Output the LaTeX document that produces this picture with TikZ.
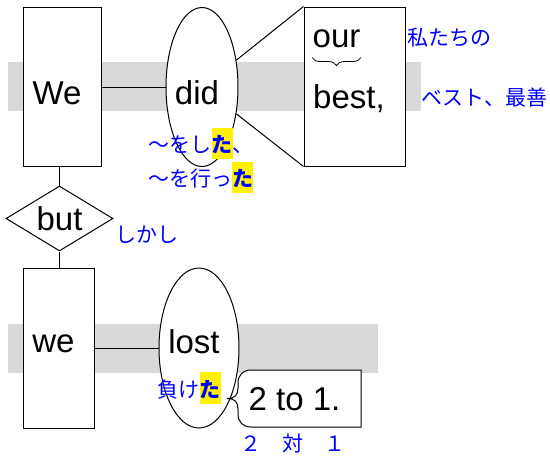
\documentclass[tikz,border=0pt]{standalone}
\usepackage{fontspec}
\setmainfont{Liberation Sans}
\newfontfamily\jp{Noto Sans CJK JP}
\usetikzlibrary{positioning,shapes.geometric,decorations.pathreplacing,calc}
\newcommand{\hlta}{{\setlength{\fboxsep}{0pt}\colorbox{yellow}{\rule[-0.32em]{0pt}{1.5em}\textbf{た}}}}
\newcommand{\nudge}[1]{\hspace*{-10pt}#1}

\begin{document}
\begin{tikzpicture}[x=1pt,y=-1pt,line width=1pt,
  word/.style={font=\fontsize{33}{36}\selectfont,inner sep=0pt},
  wbox/.style={draw,fill=white,rectangle,minimum height=159pt,inner sep=0pt},
  wovl/.style={draw,fill=white,ellipse,inner sep=0pt},
  gloss/.style={font=\jp\fontsize{21}{25}\selectfont,text=blue,inner sep=0pt},
  band/.style={fill=black!15}]
    \useasboundingbox (0,0) rectangle (550,459);
    \fill[band] (8,62) rectangle (421,111);
    \fill[band] (8,324) rectangle (378,373);

    \node[wbox,word,minimum width=78pt,text height=35.6pt,text depth=0pt] (We) at (62,87) {\nudge{We}};
    \node[wovl,word,minimum width=72pt,minimum height=159pt,text height=35.6pt,text depth=0pt] (did) at (202,87) {\nudge{did}};
    \node[wbox,minimum width=101pt] (bestbox) at (354.5,86.5) {};
    \node[word] (our) at (336.5,39) {our};
    \node[word] (best) at (349,98.5) {best,};
    \draw[line width=0.8pt,decorate,decoration={brace,mirror,amplitude=8pt}] ([yshift=-9pt]our.south west) -- ([yshift=-9pt]our.south east);

    \draw (We.east) -- (did.west);
    \draw (did.38) -- (bestbox.north west);
    \draw (did.-38) -- (bestbox.south west);

    \node[draw,fill=white,diamond,word,aspect=1.65,minimum width=107pt,minimum height=65pt] (but) at (59.5,218.5) {but};
    \node[wbox,word,minimum width=71pt,minimum height=160pt,text depth=8pt] (we) at (58.5,348) {\nudge{we}};
    \node[wovl,word,minimum width=80pt,minimum height=160pt,text depth=13pt] (lost) at (199,348) {\nudge{lost}};
    \draw (but.north) -- (but.north |- We.south);
    \draw (but.south) -- (but.south |- we.north);
    \draw (we.east |- lost.west) -- (lost.west);

    \draw[fill=white] (361,370) -- (251,370) .. controls (243,370) and (238,375) .. (238,383)
      -- (238,388) .. controls (238,395) and (235,398.5) .. (227,398.5)
      .. controls (235,398.5) and (238,402) .. (238,409)
      -- (238,414) .. controls (238,422) and (243,427) .. (251,427) -- (361,427) -- cycle;
    \node[word] (score) at (294.5,399) {2 to 1.};

    % glosses
    \node[gloss,anchor=west] (g-our) at (407,37.5) {私たちの};
    \node[gloss,anchor=west] (g-best) at (421,97) {ベスト、最善};
    \node[gloss,anchor=base west] (g-did1) at (148,152.5) {～をし\hlta、};
    \node[gloss,anchor=base west] (g-did2) at (148,186.5) {～を行っ\hlta};
    \node[gloss,anchor=west] (g-but) at (115,235) {しかし};
    \node[gloss,anchor=base west] (g-lost) at (157,397) {負け\hlta};
    \node[gloss,anchor=west] (g-score) at (240,444) {２　対　１};
\end{tikzpicture}
\end{document}
